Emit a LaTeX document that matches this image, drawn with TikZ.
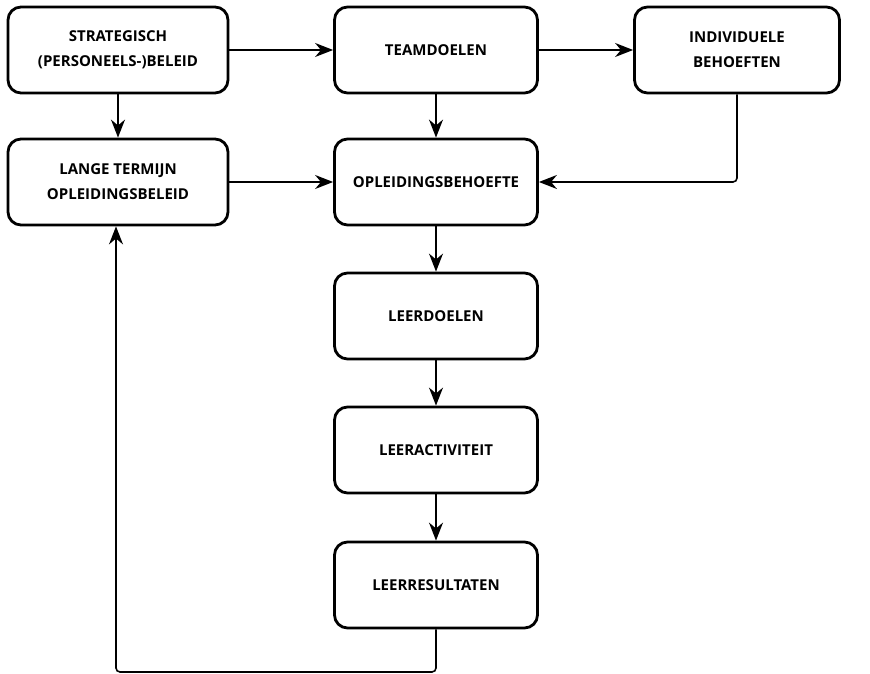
\documentclass[tikz,border=0pt]{standalone}
\usepackage{fontspec}
\setmainfont{Open Sans}
\usetikzlibrary{arrows.meta}
\begin{document}
\begin{tikzpicture}[x=1pt,y=1pt,>={Stealth[length=18pt,width=14pt]},
	blok/.style={draw,line width=2.8pt,rounded corners=13pt,align=center,
		font=\bfseries\fontsize{15}{25}\selectfont,minimum height=86pt},
	pijl/.style={->,line width=1.6pt,rounded corners=4pt}]
	\useasboundingbox (0,0) rectangle (870,674);
	% linker kolom
	\node[blok,minimum width=220pt] (strat) at (118,624) {STRATEGISCH\\(PERSONEELS-)BELEID};
	\node[blok,minimum width=220pt] (lange) at (118,492) {LANGE TERMIJN\\OPLEIDINGSBELEID};
	% middelste kolom
	\node[blok,minimum width=203pt] (team) at (436,624) {TEAMDOELEN};
	\node[blok,minimum width=203pt] (behoefte) at (436,492) {OPLEIDINGSBEHOEFTE};
	\node[blok,minimum width=203pt] (doelen) at (436,358) {LEERDOELEN};
	\node[blok,minimum width=203pt] (activiteit) at (436,224) {LEERACTIVITEIT};
	\node[blok,minimum width=203pt] (resultaten) at (436,89) {LEERRESULTATEN};
	% rechter kolom
	\node[blok,minimum width=205pt] (indiv) at (737,624) {INDIVIDUELE\\BEHOEFTEN};
	\coordinate (terug) at (116,2);
	% pijlen
	\draw[pijl] (strat) -- (team);
	\draw[pijl] (team) -- (indiv);
	\draw[pijl] (strat) -- (lange);
	\draw[pijl] (team) -- (behoefte);
	\draw[pijl] (lange) -- (behoefte);
	\draw[pijl] (indiv.south) |- (behoefte.east);
	\draw[pijl] (behoefte) -- (doelen);
	\draw[pijl] (doelen) -- (activiteit);
	\draw[pijl] (activiteit) -- (resultaten);
	\draw[pijl] (resultaten.south) |- (terug) -- (terug |- lange.south);
\end{tikzpicture}
\end{document}
